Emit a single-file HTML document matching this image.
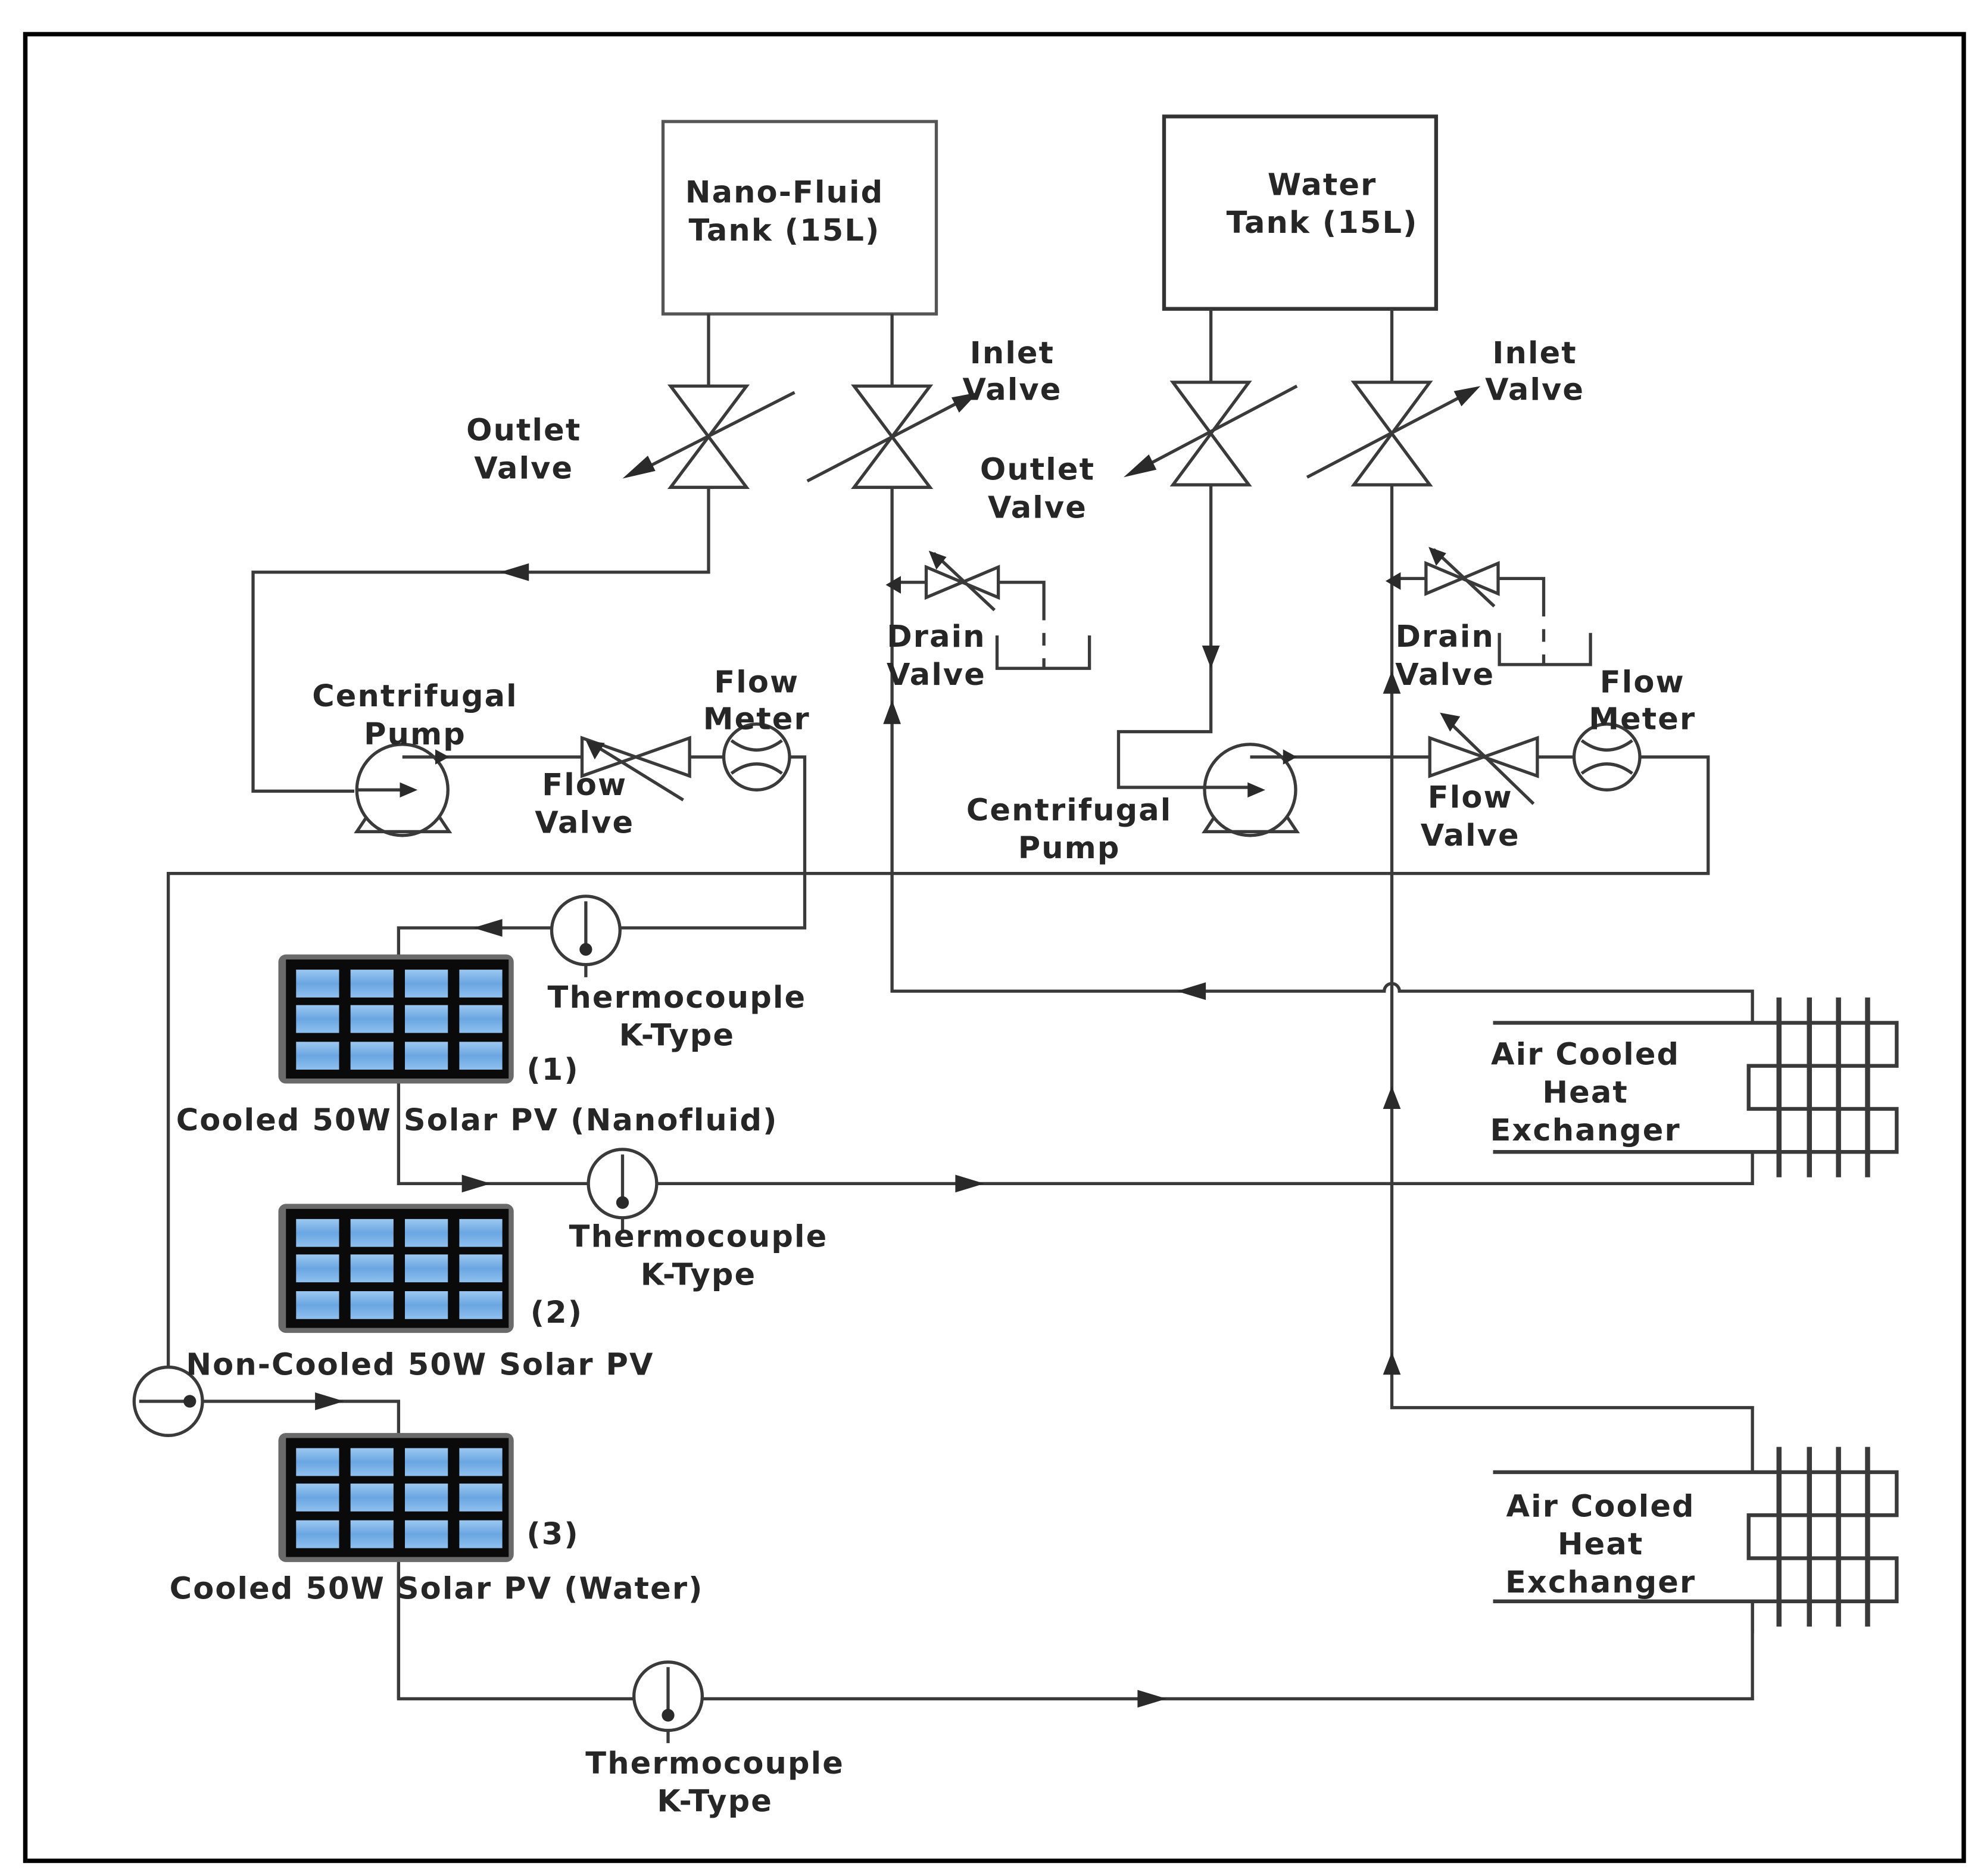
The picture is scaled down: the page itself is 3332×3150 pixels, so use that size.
<!DOCTYPE html>
<html><head><meta charset="utf-8"><style>
html,body{margin:0;padding:0;background:#fff;}
svg{display:block;}
text{font-family:"DejaVu Sans","Liberation Sans",sans-serif;font-weight:bold;font-size:24px;letter-spacing:1px;fill:#262626;text-anchor:middle;}
</style></head><body>
<svg width="3332" height="3150" viewBox="0 0 1568 1482" preserveAspectRatio="none" xmlns="http://www.w3.org/2000/svg">
<defs>
<linearGradient id="cell" x1="0" y1="0" x2="0" y2="1">
<stop offset="0" stop-color="#9cc8f0"/><stop offset="0.5" stop-color="#6aa6e2"/><stop offset="1" stop-color="#8fc0ee"/>
</linearGradient>
<g id="pv">
<rect x="0" y="0" width="186" height="102" rx="6" fill="#6a6a6a"/>
<rect x="6" y="4" width="176" height="94" fill="#0a0a0a"/>
<g fill="url(#cell)">
<rect x="14" y="12" width="34" height="22"/><rect x="57" y="12" width="34" height="22"/><rect x="100" y="12" width="34" height="22"/><rect x="143" y="12" width="34" height="22"/>
<rect x="14" y="40" width="34" height="22"/><rect x="57" y="40" width="34" height="22"/><rect x="100" y="40" width="34" height="22"/><rect x="143" y="40" width="34" height="22"/>
<rect x="14" y="69" width="34" height="22"/><rect x="57" y="69" width="34" height="22"/><rect x="100" y="69" width="34" height="22"/><rect x="143" y="69" width="34" height="22"/>
</g>
</g>
<g id="hx" fill="none" stroke="#3a3a3a" stroke-width="3">
<path d="M1180,808 H1499 V842 H1382 V876 H1499 V910 H1180"/>
<line x1="1406" y1="788" x2="1406" y2="930" stroke-width="4"/>
<line x1="1430" y1="788" x2="1430" y2="930" stroke-width="4"/>
<line x1="1453" y1="788" x2="1453" y2="930" stroke-width="4"/>
<line x1="1476" y1="788" x2="1476" y2="930" stroke-width="4"/>
</g>
</defs>
<rect x="20" y="27" width="1532" height="1443" fill="none" stroke="#000" stroke-width="3.5"/>

<g fill="none" stroke="#3a3a3a" stroke-width="2.5">
<rect x="524" y="96" width="216" height="152" stroke="#555"/>
<rect x="920" y="92" width="215" height="152" stroke="#333" stroke-width="3"/>
<path d="M560,248 V305 M560,385 V452 H200 V625 H280"/>
<path d="M705,248 V305 M705,385 V783 H1094 A6,6 0 0 1 1106,783 H1385 V808"/>
<path d="M530,305 H590 L530,385 H590 Z"/>
<path d="M675,305 H735 L675,385 H735 Z"/>
<path d="M927,302 H987 L927,383 H987 Z"/>
<path d="M1070,302 H1130 L1070,383 H1130 Z"/>
<line x1="500" y1="375" x2="628" y2="310"/>
<line x1="638" y1="380" x2="765" y2="314"/>
<line x1="898" y1="372" x2="1025" y2="305"/>
<line x1="1033" y1="377" x2="1163" y2="309"/>
<path d="M705,460 H732 M789,460 H825 V490"/>
<path d="M732,448 L789,472 V448 L732,472 Z"/>
<line x1="738" y1="437" x2="786" y2="482"/>
<path d="M825,500 V510 M825,520 V528 M788,502 V528 H861 V502"/>
<path d="M1100,457 H1127 M1184,457 H1220 V487"/>
<path d="M1127,445 L1184,469 V445 L1127,469 Z"/>
<line x1="1133" y1="434" x2="1181" y2="479"/>
<path d="M1220,497 V507 M1220,517 V525 M1185,500 V525 H1257 V500"/>
<circle cx="318" cy="624" r="36"/>
<path d="M282,624 H318"/>
<path d="M318,598 H460 M545,598 H572 M624,598 H636 V733 H490 M436,733 H315 V760"/>
<path d="M290,645 L282,657 H355 L347,645"/>
<path d="M460,583 L545,613 V583 L460,613 Z"/>
<line x1="540" y1="632" x2="472" y2="590"/>
<circle cx="598" cy="598" r="26"/>
<path d="M578,585 Q598,600 618,585 M578,611 Q598,596 618,611"/>
<circle cx="463" cy="735" r="27"/>
<path d="M463,712 V750 M463,762 V772"/>
<path d="M133,1080 V690 H1350 V598 H1296"/>
<path d="M957,244 V302 M957,383 V578 H884 V622 H988"/>
<circle cx="988" cy="624" r="36"/>
<path d="M960,645 L952,657 H1025 L1017,645"/>
<path d="M988,598 H1130 M1215,598 H1244"/>
<path d="M1130,583 L1215,613 V583 L1130,613 Z"/>
<line x1="1212" y1="635" x2="1147" y2="572"/>
<circle cx="1270" cy="598" r="26"/>
<path d="M1250,585 Q1270,600 1290,585 M1250,611 Q1270,596 1290,611"/>
<path d="M1100,244 V302 M1100,383 V1112 H1385 V1162"/>
<path d="M315,850 V935 H465 M519,935 H1385 V910"/>
<circle cx="492" cy="935" r="27"/>
<path d="M492,912 V950 M492,962 V972"/>
<circle cx="133" cy="1107" r="27"/>
<path d="M110,1107 H150 M160,1107 H315 V1342 H501 M555,1342 H1385 V1265"/>
<circle cx="528" cy="1340" r="27"/>
<path d="M528,1317 V1355 M528,1367 V1377"/>
</g>
<g fill="#2a2a2a">
<polygon points="395,452 418,445 418,459"/>
<polygon points="705,553 698,572 712,572"/>
<polygon points="930,783 953,776 953,790"/>
<polygon points="957,528 950,510 964,510"/>
<polygon points="1100,530 1093,548 1107,548"/>
<polygon points="1100,858 1093,876 1107,876"/>
<polygon points="1100,1068 1093,1086 1107,1086"/>
<polygon points="374,733 397,726 397,740"/>
<polygon points="388,935 365,928 365,942"/>
<polygon points="778,935 755,928 755,942"/>
<polygon points="272,1107 249,1100 249,1114"/>
<polygon points="922,1342 899,1335 899,1349"/>
<polygon points="330,624 316,618 316,630"/>
<polygon points="1000,624 986,618 986,630"/>
<polygon points="355,598 344,592 344,604"/>
<polygon points="1025,598 1014,592 1014,604"/>
<polygon points="492,378 512,360 518,372"/>
<polygon points="773,310 752,314 758,326"/>
<polygon points="888,377 908,359 914,371"/>
<polygon points="1170,305 1149,309 1155,321"/>
<polygon points="463,585 478,587 470,600"/>
<polygon points="1138,563 1154,566 1146,578"/>
<polygon points="734,435 748,440 740,450"/>
<polygon points="1129,432 1143,437 1135,447"/>
<circle cx="463" cy="750" r="5"/>
<circle cx="492" cy="950" r="5"/>
<circle cx="528" cy="1355" r="5"/>
<circle cx="150" cy="1107" r="5"/>
<polygon points="700,462 712,455 712,469" />
<polygon points="1095,459 1107,452 1107,466" />
</g>
<use href="#pv" x="220" y="754"/>
<use href="#pv" x="220" y="951"/>
<use href="#pv" x="220" y="1132"/>
<line x1="315" y1="1236" x2="315" y2="1342" stroke="#3a3a3a" stroke-width="2.5"/>
<use href="#hx"/>
<use href="#hx" y="355"/>
<line x1="1385" y1="1265" x2="1385" y2="1290" stroke="#3a3a3a" stroke-width="2.5"/>

<text x="620" y="160">Nano-Fluid</text>
<text x="620" y="190">Tank (15L)</text>
<text x="1045" y="154">Water</text>
<text x="1045" y="184">Tank (15L)</text>
<text x="800" y="287">Inlet</text>
<text x="800" y="316">Valve</text>
<text x="414" y="348">Outlet</text>
<text x="414" y="378">Valve</text>
<text x="1213" y="287">Inlet</text>
<text x="1213" y="316">Valve</text>
<text x="820" y="379">Outlet</text>
<text x="820" y="409">Valve</text>
<text x="740" y="511">Drain</text>
<text x="740" y="541">Valve</text>
<text x="1142" y="511">Drain</text>
<text x="1142" y="541">Valve</text>
<text x="328" y="558">Centrifugal</text>
<text x="328" y="588">Pump</text>
<text x="598" y="547">Flow</text>
<text x="598" y="576">Meter</text>
<text x="462" y="628">Flow</text>
<text x="462" y="658">Valve</text>
<text x="845" y="648">Centrifugal</text>
<text x="845" y="678">Pump</text>
<text x="1298" y="547">Flow</text>
<text x="1298" y="576">Meter</text>
<text x="1162" y="638">Flow</text>
<text x="1162" y="668">Valve</text>
<text x="535" y="796">Thermocouple</text>
<text x="535" y="826">K-Type</text>
<text x="437" y="853">(1)</text>
<text x="377" y="893">Cooled 50W Solar PV (Nanofluid)</text>
<text x="552" y="985">Thermocouple</text>
<text x="552" y="1015">K-Type</text>
<text x="440" y="1045">(2)</text>
<text x="332" y="1086">Non-Cooled 50W Solar PV</text>
<text x="437" y="1220">(3)</text>
<text x="345" y="1263">Cooled 50W Solar PV (Water)</text>
<text x="565" y="1401">Thermocouple</text>
<text x="565" y="1431">K-Type</text>
<text x="1253" y="841">Air Cooled</text>
<text x="1253" y="871">Heat</text>
<text x="1253" y="901">Exchanger</text>
<text x="1265" y="1198">Air Cooled</text>
<text x="1265" y="1228">Heat</text>
<text x="1265" y="1258">Exchanger</text>
</svg>
</body></html>
